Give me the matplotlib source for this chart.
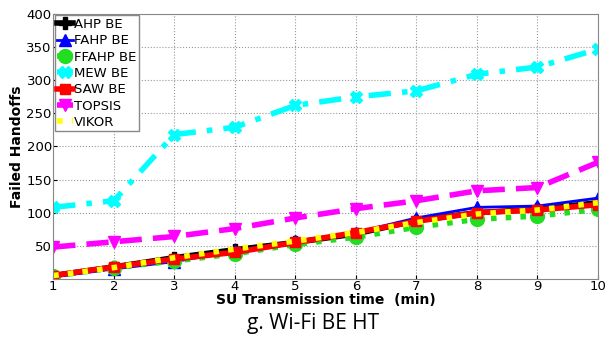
import matplotlib
matplotlib.use("Agg")
import matplotlib.pyplot as plt
import numpy as np

# SU transmission time (min)
time_min = [1, 2, 3, 4, 5, 6, 7, 8, 9, 10]

ahp = [5, 18, 32, 44, 55, 68, 88, 100, 105, 115]
fahp = [3, 15, 26, 42, 57, 70, 92, 108, 110, 122]
ffahp = [4, 17, 27, 38, 52, 63, 78, 90, 95, 105]
mew = [108, 118, 218, 229, 262, 275, 284, 309, 320, 347]
saw = [5, 18, 30, 40, 55, 70, 87, 100, 104, 112]
topsis = [48, 56, 64, 76, 92, 106, 118, 133, 138, 176]
vikor = [5, 17, 32, 45, 57, 70, 85, 98, 104, 115]

fig = plt.figure(figsize=(6.12, 3.43), dpi=100)
ax = fig.add_axes([0.087, 0.187, 0.890, 0.772])

ax.plot(time_min, ahp, color='black', lw=4, marker='P', ms=8, label='AHP BE')
ax.plot(time_min, fahp, color='blue', lw=2, marker='^', ms=8, label='FAHP BE')
ax.plot(time_min, ffahp, color='#22dd22', lw=4, ls=':', marker='o', ms=10,
        markerfacecolor='#22dd22', label='FFAHP BE')
ax.plot(time_min, mew, color='cyan', lw=4, ls=(0, (4, 2, 1, 2)), marker='X',
        ms=9, label='MEW BE')
ax.plot(time_min, saw, color='red', lw=4, marker='s', ms=7, label='SAW BE')
ax.plot(time_min, topsis, color='magenta', lw=4, ls=(0, (4, 2)), marker='v',
        ms=9, label='TOPSIS')
ax.plot(time_min, vikor, color='yellow', lw=4, ls=':', label='VIKOR')

ax.set_xlim(1, 10)
ax.set_ylim(0, 400)
ax.set_xticks(time_min)
ax.set_yticks(np.arange(0, 401, 50))
ax.set_yticklabels([''] + [str(v) for v in range(50, 401, 50)])
ax.tick_params(labelsize=9.5, direction='in', length=3, pad=1)
ax.grid(True, ls=':', color='#999999', lw=0.8)
for s in ax.spines.values():
    s.set_color('#888888')

ax.set_xlabel('SU Transmission time  (min)', fontsize=10, fontweight='bold',
              labelpad=0)
ax.set_ylabel('Failed Handoffs', fontsize=10, fontweight='bold', labelpad=2)

leg = ax.legend(loc='upper left', fontsize=9.5, handlelength=1.2,
                handletextpad=0.1, borderpad=0.2, labelspacing=0.25,
                fancybox=False, framealpha=1, borderaxespad=0.1)
leg.get_frame().set_edgecolor('#888888')

fig.text(0.512, 0.04, 'g. Wi-Fi BE HT', fontsize=15, ha='center',
         family='Open Sans')

fig.savefig('out.png', dpi=100)
